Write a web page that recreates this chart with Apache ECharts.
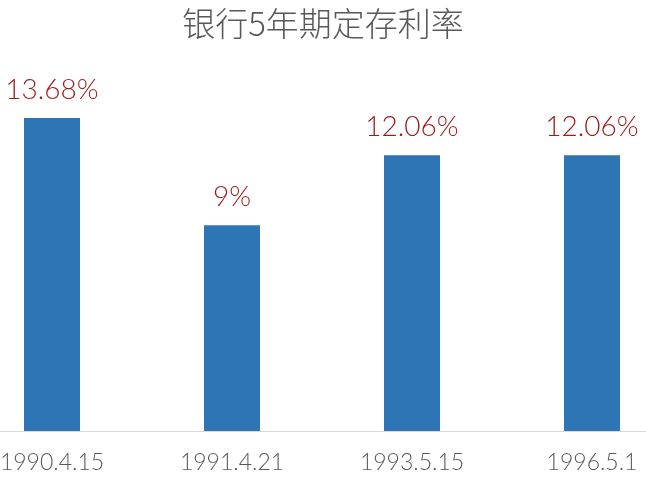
<!DOCTYPE html>
<html><head><meta charset="utf-8">
<script src="https://cdn.jsdelivr.net/npm/echarts@6/dist/echarts.min.js"></script>
<style>html,body{margin:0;padding:0;background:#fff}#c{width:646px;height:481px}</style>
</head><body><div id="c"></div>
<script>
const titleText = '银行5年期定存利率';
const categories = ['1990.4.15', '1991.4.21', '1993.5.15', '1996.5.1'];
const rates = [13.68, 9, 12.06, 12.06];
const valueLabels = ['13.68%', '9%', '12.06%', '12.06%'];

const chart = echarts.init(document.getElementById('c'));
chart.setOption({
  animation: false,
  backgroundColor: '#ffffff',
  title: {
    text: titleText, left: 'center', top: 2,
    textStyle: { fontFamily: 'Noto Sans CJK SC', fontSize: 33, fontWeight: 300, color: '#595959' }
  },
  grid: { left: -38, width: 720, top: 65, bottom: 50, outerBoundsMode: 'none', containLabel: false },
  xAxis: {
    type: 'category', data: categories,
    axisLine: { lineStyle: { color: '#d9d9d9', width: 1 } },
    axisTick: { show: false },
    axisLabel: { fontFamily: 'Lato', fontWeight: 300, fontSize: 23, color: '#595959', margin: 20 }
  },
  yAxis: { type: 'value', min: 0, max: 16, show: false, splitLine: { show: false } },
  series: [{
    type: 'bar', data: rates, barWidth: 56,
    itemStyle: { color: '#2e75b6' },
    label: {
      show: true, position: 'top', distance: 14,
      formatter: p => valueLabels[p.dataIndex],
      fontFamily: 'Lato', fontWeight: 300, fontSize: 28, color: '#9b1b1b'
    }
  }]
});
</script></body></html>
